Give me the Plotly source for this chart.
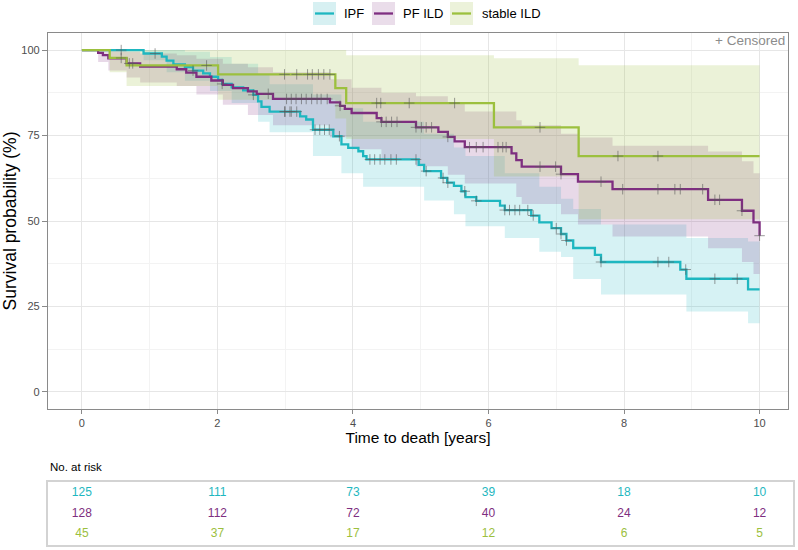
import numpy as np
import plotly.graph_objects as go

# ---------------- data ----------------
groups = ["IPF", "PF ILD", "stable ILD"]

ipf_t = [0, 0.91, 1.18, 1.25, 1.35, 1.52, 1.64, 1.79, 1.89, 2.01, 2.07, 2.21, 2.38, 2.53, 2.60, 2.65,
         2.77, 3.22, 3.31, 3.41, 3.71, 3.83, 3.93, 4.08, 4.15, 4.20, 4.97, 5.05, 5.30, 5.39, 5.49,
         5.60, 5.66, 5.82, 6.17, 6.24, 6.63, 6.75, 6.93, 7.07, 7.15, 7.25, 7.57, 7.66, 8.83, 8.92,
         9.83, 10.0]
ipf_s = [100, 99.0, 98.1, 96.9, 95.8, 95.0, 94.0, 93.2, 92.2, 91.3, 90.1, 89.1, 88.2, 86.9, 85.0, 83.4,
         82.0, 80.6, 79.7, 76.7, 74.8, 72.4, 71.4, 70.4, 69.0, 68.0, 66.4, 64.6, 62.6, 61.2, 60.3,
         58.7, 57.0, 55.9, 54.5, 53.2, 51.6, 49.6, 47.9, 46.2, 44.3, 42.1, 40.1, 38.0, 35.8, 33.1,
         30.0, 30.0]
ipf_cens = [0.58, 1.08, 1.64, 2.07, 2.53, 2.99, 3.07, 3.0, 3.09, 3.17, 3.44, 3.51, 3.58, 3.65, 3.80,
            4.25, 4.32, 4.40, 4.47, 4.56, 4.64, 4.93, 5.08, 5.33, 5.40, 5.65, 5.82, 6.24, 6.31,
            6.39, 6.46, 6.58, 6.66, 7.0, 7.07, 7.15, 7.66, 8.50, 8.66, 8.91, 9.34, 9.67]
ipf_ci_t = [0, 0.91, 1.25, 1.52, 1.89, 2.21, 2.60, 2.77, 3.41, 3.83, 4.15, 5.05, 5.49, 5.66, 6.24,
            6.75, 7.07, 7.25, 7.66, 8.92, 9.83, 10.0]
ipf_ci_hi = [100, 100, 100, 99.5, 98, 96, 93, 90, 87, 83, 79, 75.5, 71.5, 69, 64, 60, 56.5, 53.5,
             49, 45, 44, 44]
ipf_ci_lo = [100, 97, 93.5, 91, 88, 84.5, 79, 76, 69, 64, 60, 56, 52, 48.5, 45, 41, 39.5, 33,
             28.5, 23.5, 20.1, 20.1]

pf_t = [0, 0.24, 0.31, 0.39, 0.66, 0.86, 1.40, 1.54, 1.69, 1.91, 2.08, 2.23, 2.45, 2.58, 2.82,
        3.66, 3.81, 3.88, 3.98, 4.35, 4.42, 4.93, 5.26, 5.40, 5.50, 5.65, 6.34, 6.41, 6.49, 7.07,
        7.32, 7.83, 9.24, 9.74, 9.91, 10.0]
pf_s = [100, 99.2, 98.5, 97.6, 96.1, 95.2, 94.4, 93.4, 92.2, 91.1, 89.8, 88.9, 87.9, 87.2, 85.7,
        84.7, 83.7, 82.8, 81.6, 80.1, 79.0, 77.4, 76.1, 74.6, 73.3, 71.6, 69.8, 67.8, 65.9, 63.7,
        61.5, 59.3, 56.2, 53.0, 49.6, 45.7]
pf_cens = [0.70, 0.75, 2.75, 3.02, 3.09, 3.16, 3.24, 3.31, 3.39, 3.47, 3.53, 3.62, 3.81, 4.42,
           4.49, 4.57, 4.65, 4.93, 5.01, 5.08, 5.16, 5.40, 5.72, 5.82, 5.92, 6.14, 6.21, 6.26,
           6.76, 6.99, 7.07, 7.66, 7.98, 8.50, 8.75, 8.83, 9.16, 9.34, 9.41, 9.74, 10.0]
pf_ci_t = [0, 0.24, 0.39, 0.66, 0.86, 1.40, 1.69, 2.08, 2.45, 2.82, 3.66, 3.98, 4.42, 4.93, 5.40,
           5.65, 6.41, 6.49, 7.07, 7.32, 7.83, 9.24, 9.74, 9.91, 10.0]
pf_ci_hi = [100, 100, 100, 99.5, 99, 98.5, 97.5, 96, 95, 93.5, 91.5, 89, 87.5, 86.5, 84.5, 82,
            79.5, 78, 75.5, 74.4, 72, 70.3, 67.5, 64, 60]
pf_ci_lo = [100, 96.5, 94, 92, 90.5, 89.5, 87, 84, 81, 78, 74.5, 71, 68, 66, 63.5, 61, 57, 55,
            52, 49, 45.5, 42, 38, 34.5, 33.7]

st_t = [0, 0.41, 0.66, 2.01, 3.74, 3.90, 6.08, 7.33, 10.0]
st_s = [100, 97.7, 95.5, 92.9, 88.9, 84.5, 77.4, 69.0, 69.0]
st_cens = [0.58, 1.84, 2.99, 3.17, 3.33, 3.40, 3.49, 3.57, 3.66, 4.35, 4.41, 4.83, 5.50, 6.76,
           7.91, 8.50]
st_ci_t = [0, 0.41, 0.66, 2.01, 3.74, 3.90, 6.08, 7.33, 10.0]
st_ci_hi = [100, 100, 100, 100, 100, 98.5, 97.6, 95.6, 95.6]
st_ci_lo = [100, 93.5, 89.5, 85.5, 80, 74, 63, 50.5, 50.5]

risk_times = [0, 2, 4, 6, 8, 10]
risk_ipf = [125, 111, 73, 39, 18, 10]
risk_pf = [128, 112, 72, 40, 24, 12]
risk_st = [45, 37, 17, 12, 6, 5]

x_ticks = [0, 2, 4, 6, 8, 10]
y_ticks = [0, 25, 50, 75, 100]

# ---------------- styling ----------------
line_cols = ["#1EB7C0", "#7E2E80", "#9CC03E"]
fill_cols = ["rgba(30,183,192,0.18)", "rgba(126,46,128,0.18)", "rgba(156,192,62,0.20)"]
key_cols = ["#D7F0F2", "#EADDEA", "#ECF2DA"]
FONT = "Liberation Sans, Arial, sans-serif"

W, H = 798, 550
ML, MR, MT, MB = 48, 5, 33, 5
plot_w = W - ML - MR
plot_h = H - MT - MB
main_right_px = 788
xr0 = -0.5
px_per_yr = (759.6 - 81.9) / 10.0
xr1_main = xr0 + (main_right_px - ML) / px_per_yr
xr1_tab = xr0 + plot_w / px_per_yr


def py2paper(py):
    return (H - MB - py) / plot_h


def px2paper(px):
    return (px - ML) / plot_w


def step_at(ts, ss, t):
    ts = np.asarray(ts)
    i = np.searchsorted(ts, t, side="right") - 1
    return np.asarray(ss)[np.clip(i, 0, len(ss) - 1)]


fig = go.Figure()

series = [
    (ipf_t, ipf_s, ipf_cens, ipf_ci_t, ipf_ci_lo, ipf_ci_hi),
    (pf_t, pf_s, pf_cens, pf_ci_t, pf_ci_lo, pf_ci_hi),
    (st_t, st_s, st_cens, st_ci_t, st_ci_lo, st_ci_hi),
]

# ribbons
for k, (t, s, c, ct, lo, hi) in enumerate(series):
    fig.add_trace(go.Scatter(x=ct, y=lo, mode="lines", line=dict(width=0, shape="hv"),
                             showlegend=False, hoverinfo="skip"))
    fig.add_trace(go.Scatter(x=ct, y=hi, mode="lines", line=dict(width=0, shape="hv"),
                             fill="tonexty", fillcolor=fill_cols[k], showlegend=False,
                             hoverinfo="skip"))

# curves
for k, (t, s, c, ct, lo, hi) in enumerate(series):
    fig.add_trace(go.Scatter(x=t, y=s, mode="lines", name=groups[k],
                             line=dict(color=line_cols[k], width=2.3, shape="hv"),
                             showlegend=False))

# censor marks
for k, (t, s, c, ct, lo, hi) in enumerate(series):
    cy = step_at(t, s, np.asarray(c))
    fig.add_trace(go.Scatter(x=c, y=cy, mode="markers", showlegend=False,
                             marker=dict(symbol="cross-thin", size=7.5,
                                         line=dict(color="rgba(90,90,90,0.6)", width=1))))

# risk table
risk_rows = [risk_ipf, risk_pf, risk_st]
for k, row in enumerate(risk_rows):
    fig.add_trace(go.Scatter(x=risk_times, y=[3 - k] * len(risk_times), mode="text",
                             text=[str(v) for v in row], textposition="middle center",
                             textfont=dict(color=line_cols[k], size=12, family=FONT),
                             xaxis="x2", yaxis="y2", showlegend=False, hoverinfo="skip"))

axis_line = "#8a8a8a"
fig.update_layout(
    width=W, height=H,
    margin=dict(l=ML, r=MR, t=MT, b=MB, autoexpand=False),
    paper_bgcolor="white", plot_bgcolor="white",
    font=dict(family=FONT, color="#000000"),
    showlegend=False,
    xaxis=dict(domain=[0, (main_right_px - ML) / plot_w], range=[xr0, xr1_main],
               tickvals=x_ticks, ticktext=[str(v) for v in x_ticks],
               showgrid=True, gridcolor="#E6E6E6", gridwidth=1,
               minor=dict(dtick=1, tick0=0, showgrid=True, gridcolor="#F3F3F3", gridwidth=1, ticks=""),
               zeroline=False, showline=True, linecolor=axis_line, linewidth=1.2, mirror=True,
               ticks="outside", ticklen=4, tickcolor=axis_line,
               tickfont=dict(size=11, color="#4D4D4D"), automargin=False,
               title=dict(text="Time to death [years]", font=dict(size=15.5, color="#000"), standoff=3),
               anchor="y"),
    yaxis=dict(domain=[py2paper(409), 1.0], range=[-5, 105],
               tickvals=y_ticks, ticktext=[str(v) for v in y_ticks],
               showgrid=True, gridcolor="#E6E6E6", gridwidth=1,
               minor=dict(dtick=12.5, tick0=0, showgrid=True, gridcolor="#F3F3F3", gridwidth=1, ticks=""),
               zeroline=False, showline=True, linecolor=axis_line, linewidth=1.2, mirror=True,
               ticks="outside", ticklen=5, tickcolor=axis_line,
               tickfont=dict(size=11, color="#4D4D4D"), automargin=False,
               title=dict(text="Survival probability (%)", font=dict(size=17.5, color="#000"), standoff=4),
               anchor="x"),
    xaxis2=dict(domain=[0, 1], range=[xr0, xr1_tab], showgrid=False, zeroline=False,
                showticklabels=False, ticks="", showline=True, linecolor="#D3D3D3", linewidth=2,
                mirror=True, anchor="y2", automargin=False),
    yaxis2=dict(domain=[0, py2paper(482)], range=[0.45, 3.55], showgrid=False, zeroline=False,
                showticklabels=False, ticks="", showline=True, linecolor="#D3D3D3", linewidth=2,
                mirror=True, anchor="x2", automargin=False),
)

# "No. at risk" label and "+ Censored" note
fig.add_annotation(x=0, y=py2paper(467), xref="paper", yref="paper", text="No. at risk",
                   showarrow=False, xanchor="left", yanchor="middle",
                   font=dict(size=11.5, color="#000"))
fig.add_annotation(x=px2paper(787), y=py2paper(40), xref="paper", yref="paper", text="+ Censored",
                   showarrow=False, xanchor="right", yanchor="middle",
                   font=dict(size=13.5, color="#8C8C8C"))

# legend (manual, ggplot-style keys)
key_x = [313, 372, 450]
text_x = [342, 401, 480]
for k in range(3):
    x0p, x1p = px2paper(key_x[k]), px2paper(key_x[k] + 23)
    fig.add_shape(type="rect", xref="paper", yref="paper", x0=x0p, x1=x1p,
                  y0=py2paper(25), y1=py2paper(2), fillcolor=key_cols[k], line=dict(width=0),
                  layer="above")
    fig.add_shape(type="line", xref="paper", yref="paper", x0=px2paper(key_x[k] + 2),
                  x1=px2paper(key_x[k] + 21), y0=py2paper(13.5), y1=py2paper(13.5),
                  line=dict(color=line_cols[k], width=2.3), layer="above")
    fig.add_annotation(x=px2paper(text_x[k]), y=py2paper(13.5), xref="paper", yref="paper",
                       text=groups[k], showarrow=False, xanchor="left", yanchor="middle",
                       font=dict(size=13, color="#000"))

fig.write_html("out.html", config={"displayModeBar": False},
               post_script="document.body.style.margin='0px';")
